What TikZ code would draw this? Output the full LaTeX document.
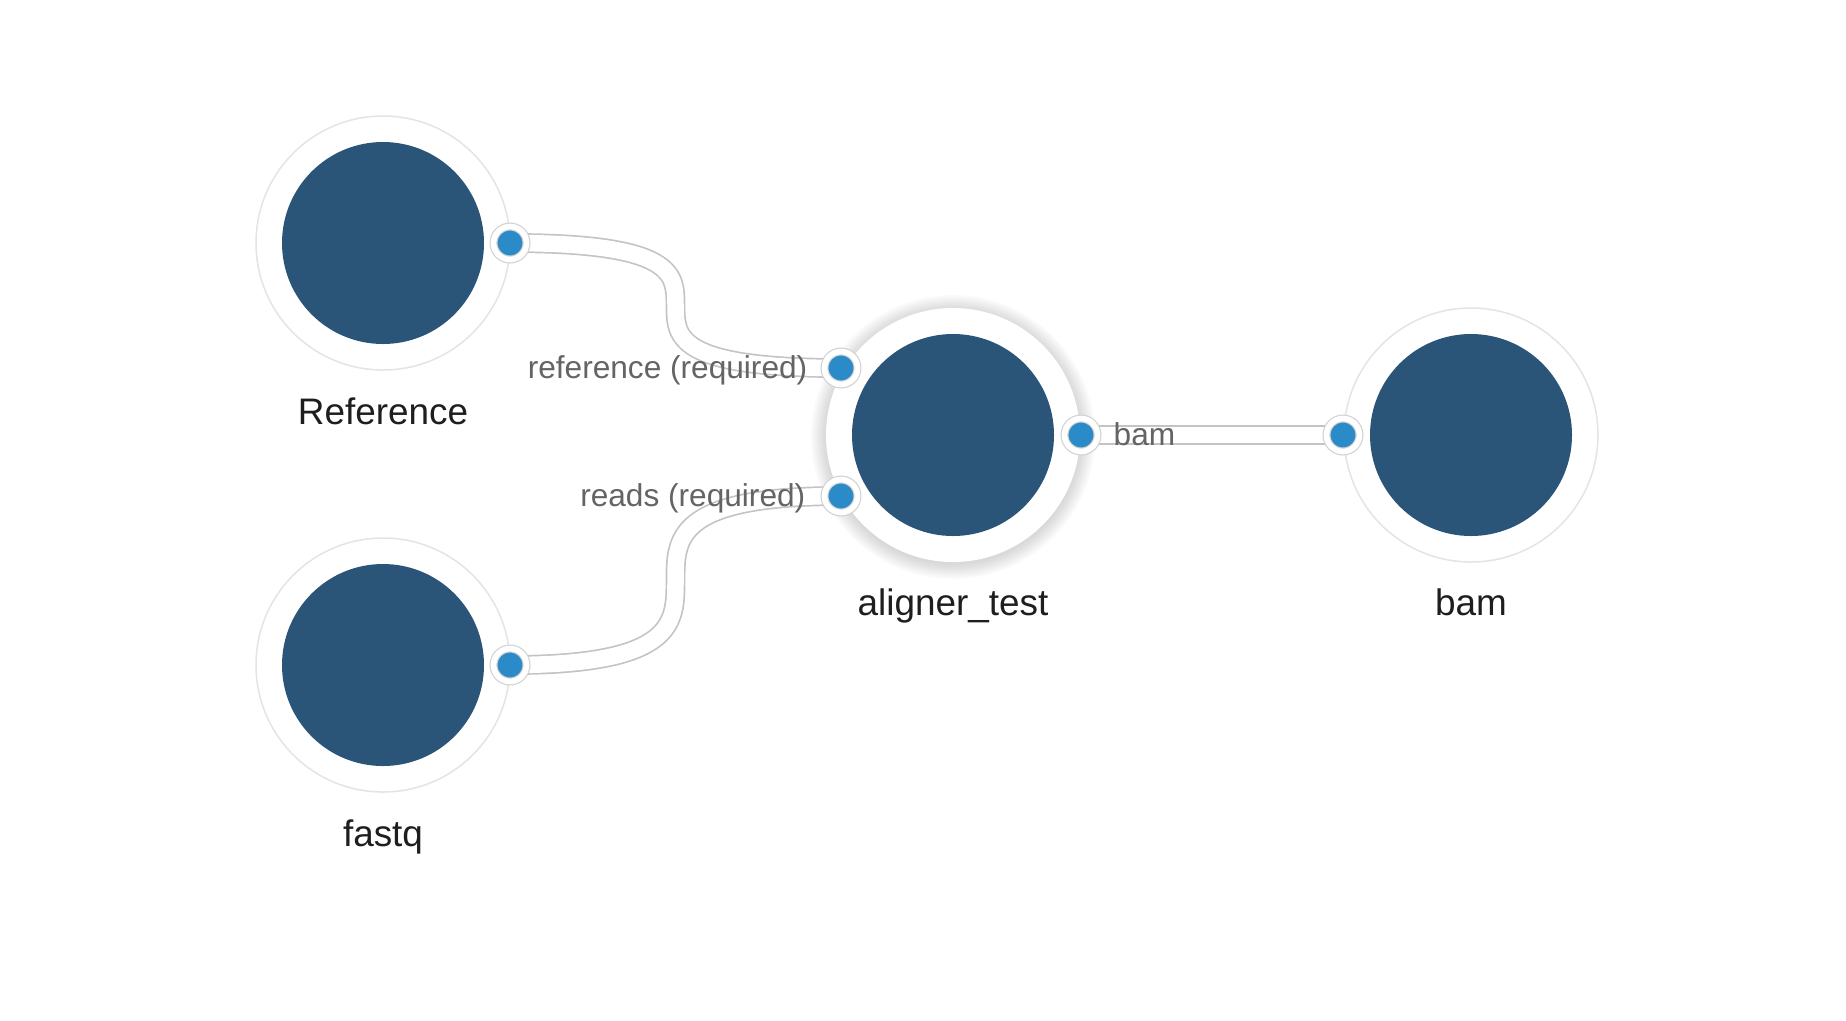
\documentclass[tikz,border=0pt]{standalone}
\usepackage{fontspec}
\setmainfont{Liberation Sans}

\definecolor{navy}{HTML}{2A5578}
\definecolor{portblue}{HTML}{2B8BC9}
\definecolor{ringedge}{HTML}{E4E4E4}
\definecolor{portedge}{HTML}{D2D2D2}
\definecolor{linkedge}{HTML}{C4C4C4}
\definecolor{labeltext}{HTML}{1E1E1E}
\definecolor{porttext}{HTML}{646464}

\tikzstyle{ring}=[circle, minimum size=25.4mm, inner sep=0pt, fill=white, draw=ringedge, line width=0.15mm]
\tikzstyle{tool}=[circle, minimum size=20.2mm, inner sep=0pt, fill=navy]
\tikzstyle{port}=[circle, minimum size=3.3mm, inner sep=0pt, fill=portblue, draw=portedge, double=white, double distance=0.56mm, line width=0.12mm]
\tikzstyle{link}=[draw=linkedge, double=white, double distance=1.65mm, line width=0.17mm]
\tikzstyle{nlabel}=[anchor=base, inner sep=0pt, font=\fontsize{10.5}{12}\selectfont, text=labeltext]
\tikzstyle{plabel}=[inner sep=0pt, font=\fontsize{9}{11}\selectfont, text=porttext]

\begin{document}
\begin{tikzpicture}[x=0.1mm, y=-0.1mm]
        \useasboundingbox (0,0) rectangle (1846,1020);
        % soft shadow round the selected tool
        \foreach \r in {12.8,13.0,...,14.3}
            \fill[black, opacity=0.018] (953,437) circle (\r mm);
        \draw (383,243) node[ring](refring){} node[tool](ref){};
        \draw (383,665) node[ring](fastqring){} node[tool](fastq){};
        \draw (953,435) node[ring, draw=none](alignring){} node[tool](aligner){};
        \draw (1471,435) node[ring](bamring){} node[tool](bam){};
        %
        \node[nlabel] (reflabel)   at (383,424)  {Reference};
        \node[nlabel] (fastqlabel) at (383,846)  {fastq};
        \node[nlabel] (alignlabel) at (953,615)  {aligner\_test};
        \node[nlabel] (bamlabel)   at (1471,615) {bam};
        %
        \coordinate (refout)     at (510,243);
        \coordinate (fastqout)   at (510,665);
        \coordinate (alignref)   at (841,368);
        \coordinate (alignreads) at (841,496);
        \coordinate (alignout)   at (1081,435);
        \coordinate (bamin)      at (1343,435);
        %
        \path[link] (refout) .. controls (alignref |- refout) and (refout |- alignref) .. (alignref);
        \path[link] (fastqout) .. controls (alignreads |- fastqout) and (fastqout |- alignreads) .. (alignreads);
        \path[link] (alignout) -- (bamin);
        %
        \node[plabel, anchor=base east] (reflink)   at (808,378)  {reference (required)};
        \node[plabel, anchor=base east] (readslink) at (806,506)  {reads (required)};
        \node[plabel, anchor=base west] (bamlink)   at (1113,445) {bam};
        %
        \draw (refout)     node[port](refoutport){};
        \draw (fastqout)   node[port](fastqoutport){};
        \draw (alignref)   node[port](alignrefport){};
        \draw (alignreads) node[port](alignreadsport){};
        \draw (alignout)   node[port](alignoutport){};
        \draw (bamin)      node[port](baminport){};
\end{tikzpicture}
\end{document}
